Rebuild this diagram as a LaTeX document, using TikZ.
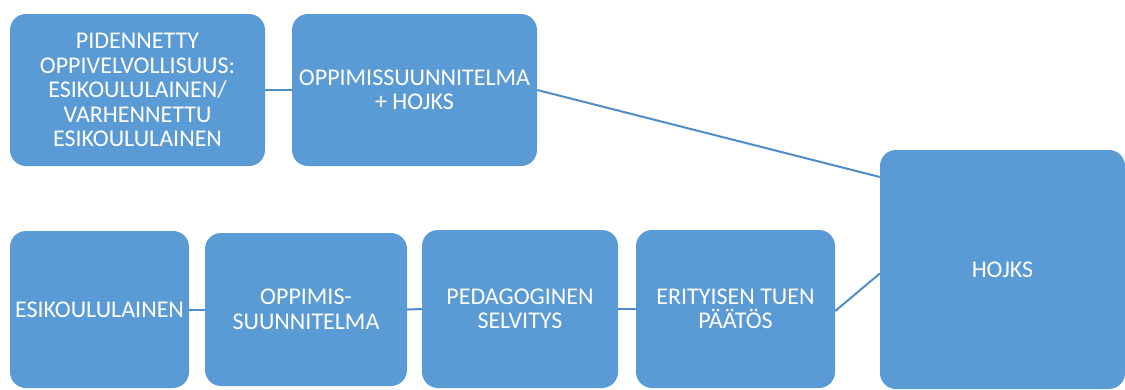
\documentclass[tikz,border=0pt]{standalone}
\usepackage{fontspec}
\setmainfont{Carlito}
\definecolor{boxblue}{HTML}{5B9BD5}
\definecolor{lineblue}{HTML}{4E8DCB}
\begin{document}
\begin{tikzpicture}[x=1pt,y=1pt,
  box/.style={fill=boxblue, draw=none, rounded corners=16pt, inner sep=0pt,
    align=center, text=white, font=\fontsize{24}{24.5}\selectfont},
  conn/.style={draw=lineblue, line width=2pt}]
\useasboundingbox (0,0) rectangle (1125,-389);
\node[box, minimum width=255pt, minimum height=152pt] (b1) at (137.5,-90)
  {PIDENNETTY\\OPPIVELVOLLISUUS:\\ESIKOULULAINEN/\\VARHENNETTU\\ESIKOULULAINEN};
\node[box, minimum width=245pt, minimum height=152pt] (b2) at (414.5,-90)
  {OPPIMISSUUNNITELMA\\+ HOJKS};
\node[box, minimum width=245pt, minimum height=239pt] (h) at (1002.5,-269.5)
  {HOJKS};
\node[box, minimum width=179pt, minimum height=157pt] (e1) at (99.5,-309.5)
  {ESIKOULULAINEN};
\node[box, minimum width=202pt, minimum height=153pt] (e2) at (306,-309.5)
  {OPPIMIS-\\SUUNNITELMA};
\node[box, minimum width=196pt, minimum height=158pt] (e3) at (520,-309)
  {PEDAGOGINEN\\SELVITYS};
\node[box, minimum width=199pt, minimum height=158pt] (e4) at (735.5,-309)
  {ERITYISEN TUEN\\PÄÄTÖS};
\draw[conn] (b1.east) -- (b2.west);
\draw[conn] (b2.east) -- ([yshift=92.5pt]h.west);
\draw[conn] (e1.east) -- (e2.west);
\draw[conn] (e2.east) -- (e3.west);
\draw[conn] (e3.east) -- (e4.west);
\draw[conn] ([yshift=-2pt]e4.east) -- ([yshift=-4pt]h.west);
\end{tikzpicture}
\end{document}
